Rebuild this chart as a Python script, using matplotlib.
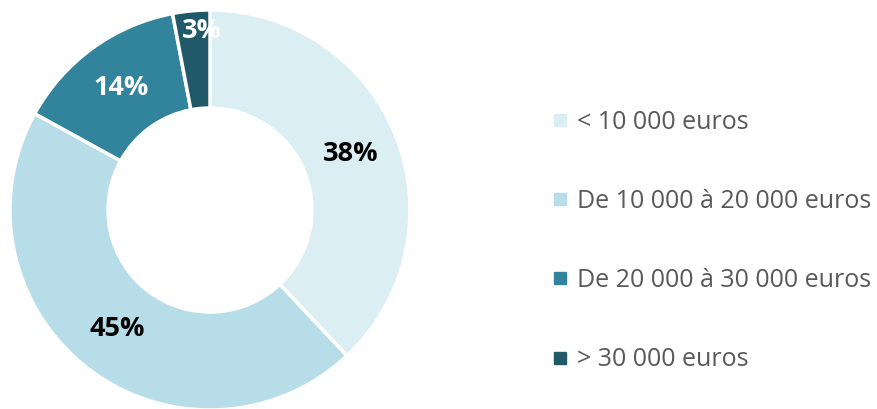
import numpy as np
import matplotlib
matplotlib.use("Agg")
import matplotlib.pyplot as plt
from matplotlib.lines import Line2D

categories = ["< 10 000 euros", "De 10 000 à 20 000 euros",
              "De 20 000 à 30 000 euros", "> 30 000 euros"]
values = [38, 45, 14, 3]
colors = ["#DAEEF3", "#B7DDE8", "#31849B", "#215968"]
label_colors = ["black", "black", "white", "white"]

plt.rcParams['font.family'] = ['Open Sans', 'DejaVu Sans']

fig = plt.figure(figsize=(8.78, 4.09), dpi=100)
W, H = 878, 409
cx, cy, R = 210, 210, 200
ax = fig.add_axes([(cx - R) / W, (H - cy - R) / H, 2 * R / W, 2 * R / H])

wedges, texts, autotexts = ax.pie(
    values, colors=colors, startangle=90, counterclock=False, radius=1.0,
    wedgeprops=dict(width=0.49, edgecolor="white", linewidth=2.5),
    autopct=lambda p: f"{p:.0f}%", pctdistance=0.755,
    textprops=dict(fontsize=19.5, fontweight="bold"))
for w in wedges:
    w.set_clip_on(False)
for t, c in zip(autotexts, label_colors):
    t.set_color(c)
# the smallest slice label sits further out, near the outer edge
w = wedges[3]
ang = np.deg2rad((w.theta1 + w.theta2) / 2)
autotexts[3].set_position((0.9 * np.cos(ang) + 0.045, 0.9 * np.sin(ang)))

ax.set_xlim(-1, 1)
ax.set_ylim(-1, 1)
ax.set_aspect("equal")
ax.axis("off")

handles = [Line2D([], [], marker="s", linestyle="none", markersize=8.5,
                  markerfacecolor=c, markeredgecolor=c) for c in colors]
leg = fig.legend(handles, categories, loc="center left",
                 bbox_to_anchor=(541 / W, 1 - 241 / H), frameon=False,
                 fontsize=18, labelcolor="#595959", handlelength=0.55,
                 handletextpad=0.4, labelspacing=2.17, borderpad=0)

fig.savefig("out.png", dpi=100)
